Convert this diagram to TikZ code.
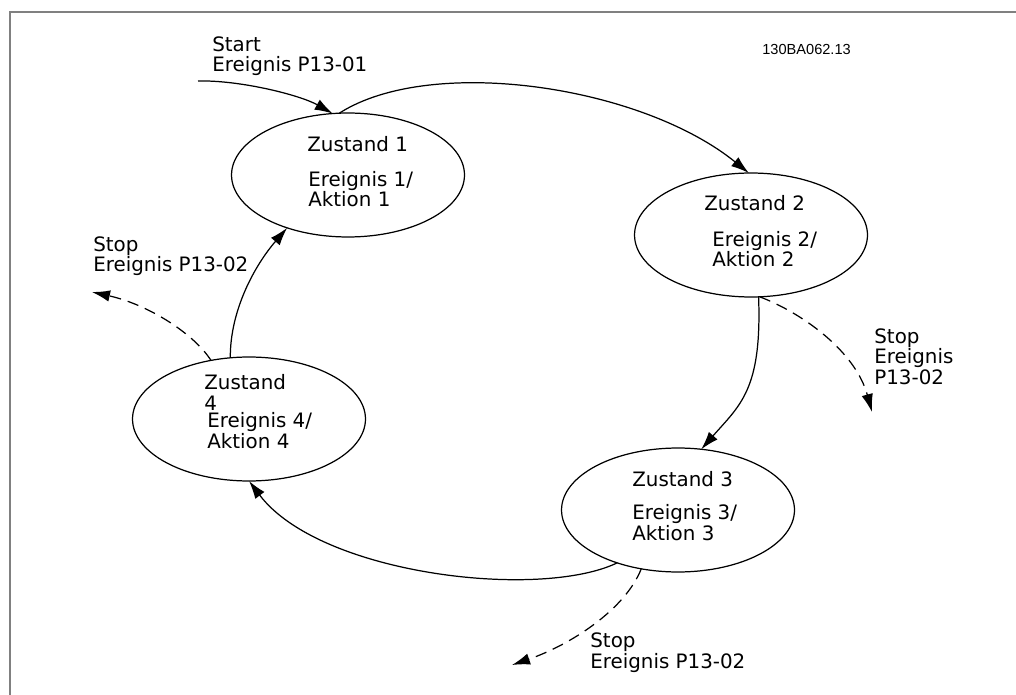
\documentclass[tikz,border=0pt]{standalone}
\usepackage{fontspec}
\setmainfont{DejaVu Sans}
\newfontfamily\codefont{Liberation Sans}
\usepackage{tikz}
\usetikzlibrary{shapes.geometric, arrows.meta}
\tikzstyle{arrow} = [line width=0.7pt, -{Latex[length=3.6mm, width=2.3mm]}]

\begin{document}
\begin{tikzpicture}[x=0.02cm, y=-0.02cm,
    every node/.style={font=\fontsize{11.3}{11.4}\selectfont, inner sep=0pt}]

    \tikzstyle{zustand}=[ellipse, draw, line width=0.7pt, inner sep=0pt, outer sep=0pt,
        minimum width=4.66cm, minimum height=2.48cm]
    \tikzstyle{stoparrow}=[arrow, dash pattern=on 6.5pt off 4pt]
    \tikzstyle{txt}=[anchor=base west, align=left]

    \useasboundingbox (0,0) rectangle (1016,695);
    \draw[gray, line width=1.1pt] (1016,12) -- (10,12) -- (10,695);

    \node[zustand] (z1) at (348,175) {};
    \node[zustand] (z2) at (751,235) {};
    \node[zustand] (z3) at (678,510) {};
    \node[zustand] (z4) at (249,419) {};

    % multi-line texts sit on the baseline of their last line
    \node[txt] (z1name) at (307,152) {Zustand 1};
    \node[txt] (z1text) at (308,207) {Ereignis 1/\\Aktion 1};
    \node[txt] (z2name) at (704,211) {Zustand 2};
    \node[txt] (z2text) at (712,267) {Ereignis 2/\\Aktion 2};
    \node[txt] (z3name) at (632,486) {Zustand 3};
    \node[txt] (z3text) at (632,540) {Ereignis 3/\\Aktion 3};
    \node[txt] (z4name) at (204,410) {Zustand\\4};
    \node[txt] (z4text) at (207,448) {Ereignis 4/\\Aktion 4};

    \node[txt] (startlbl) at (212,72) {Start\\Ereignis P13-01};
    \node[txt] (stop4lbl) at (93,272) {Stop\\Ereignis P13-02};
    \node[txt] (stop2lbl) at (874,384) {Stop\\Ereignis\\P13-02};
    \node[txt] (stop3lbl) at (590,668) {Stop\\Ereignis P13-02};
    \node[anchor=base west, font=\codefont\fontsize{8.3}{10}\selectfont] (code) at (762,55) {130BA062.13};

    \coordinate (startin) at (198,81);
    \coordinate (stop4end) at (92,292);
    \coordinate (stop2end) at (872,412);
    \coordinate (stop3end) at (512,665);

    \draw[arrow] (startin) .. controls (240,80) and (300,95) .. (z1.104);
    \draw[arrow] (z1.98) .. controls (430,55) and (640,85) .. (z2.92);
    \draw[arrow] (z2.-83) .. controls (762,390) and (740,405) .. (z3.69);
    \draw[stoparrow] (z2.-82) .. controls (800,312) and (855,350) .. (stop2end);
    \draw[arrow] (z3.221) .. controls (540,600) and (320,575) .. (z4.south);
    \draw[stoparrow] (z3.238) .. controls (625,610) and (570,645) .. (stop3end);
    \draw[arrow] (z4.107) .. controls (230,310) and (255,265) .. (z1.221);
    \draw[stoparrow] (z4.123) .. controls (195,335) and (150,305) .. (stop4end);

\end{tikzpicture}
\end{document}
